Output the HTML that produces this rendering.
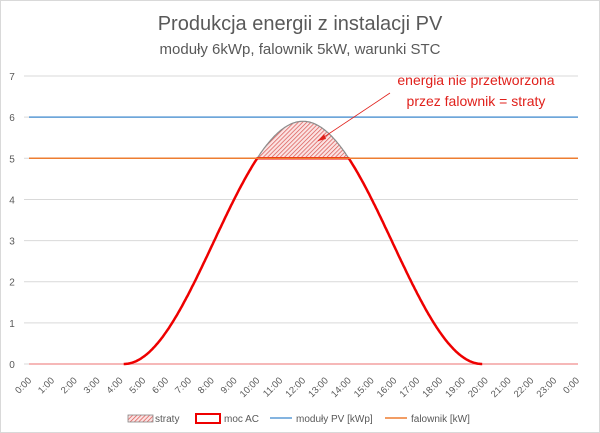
<!DOCTYPE html>
<html><head><meta charset="utf-8"><style>
body{margin:0;background:#fff;}
svg{display:block;font-family:"Liberation Sans",sans-serif;}
</style></head><body>
<svg id="s" width="600" height="433" viewBox="0 0 600 433">
<defs><pattern id="h" width="3" height="3" patternUnits="userSpaceOnUse" patternTransform="rotate(45)"><rect width="3" height="3" fill="#fbe3e3"/><line x1="0" y1="0" x2="0" y2="3" stroke="#d9534f" stroke-width="1.4"/></pattern></defs>
<rect x="0.5" y="0.5" width="599" height="432" fill="#fff" stroke="#d9d9d9"/>
<text x="300" y="30" text-anchor="middle" font-size="20" fill="#595959">Produkcja energii z instalacji PV</text>
<text x="300" y="54" text-anchor="middle" font-size="15" fill="#595959">moduły 6kWp, falownik 5kW, warunki STC</text>
<g id="g"></g>
<text x="476" y="85" text-anchor="middle" font-size="14" fill="#e0201b">energia nie przetworzona</text>
<text x="476" y="106" text-anchor="middle" font-size="14" fill="#e0201b">przez falownik = straty</text>
<line x1="390" y1="93" x2="318" y2="141" stroke="#e0201b" stroke-width="0.8"/>
<polygon points="318,141 324,134 326,139" fill="#e0201b"/>
<g font-size="10" fill="#595959">
<rect x="128" y="415" width="25" height="7" fill="url(#h)" stroke="#888" stroke-width="0.8"/><text x="155" y="422">straty</text>
<rect x="196" y="414" width="24" height="9" fill="#fff" stroke="#e00" stroke-width="2"/><text x="224" y="422">moc AC</text>
<line x1="270" y1="418" x2="292" y2="418" stroke="#5b9bd5" stroke-width="1.5"/><text x="296" y="422">moduły PV [kWp]</text>
<line x1="385" y1="418" x2="407" y2="418" stroke="#ed7d31" stroke-width="1.5"/><text x="411" y="422">falownik [kW]</text>
</g>
</svg>
<script>
var g=document.getElementById('g'),h='';
var X=function(t){return 29+t*22.83},Y=function(v){return 364-v*41.14};
for(var i=0;i<=7;i++){h+='<line x1="24" x2="578" y1="'+Y(i)+'" y2="'+Y(i)+'" stroke="#d9d9d9"/>';h+='<text x="12" y="'+(Y(i)+4)+'" font-size="10" fill="#595959" text-anchor="middle">'+i+'</text>';}
for(var i=0;i<=24;i++){var x=X(i);h+='<text transform="translate('+(x+3)+',381) rotate(-45)" font-size="9.5" fill="#595959" text-anchor="end">'+(i%24)+':00</text>';}
var S=4.15,W=15.7;
function P(t){if(t<S||t>S+W)return 0;var s=Math.sin(Math.PI*(t-S)/W);return 5.9*s*s;}
var ac='',tp='';
for(var k=415;k<=1985;k+=5){var t=k/100,p=P(t);ac+=(k==415?'M':'L')+X(t).toFixed(1)+','+Y(Math.min(p,5)).toFixed(1);if(p>5){tp+='L'+X(t).toFixed(1)+','+Y(p).toFixed(1);}}
h+='<path d="M'+X(10.0)+','+Y(5)+tp+'L'+X(14.0)+','+Y(5)+'Z" fill="url(#h)" stroke="#8c8c8c" stroke-width="1.2"/>';
h+='<line x1="29" x2="578" y1="'+Y(0)+'" y2="'+Y(0)+'" stroke="#f4a0a0" stroke-width="1.5"/>';
h+='<path d="'+ac+'" fill="none" stroke="#e00" stroke-width="2.5"/>';
h+='<line x1="29" x2="578" y1="'+Y(6)+'" y2="'+Y(6)+'" stroke="#5b9bd5" stroke-width="1.5"/>';
h+='<line x1="29" x2="578" y1="'+Y(5)+'" y2="'+Y(5)+'" stroke="#ed7d31" stroke-width="1.5"/>';
g.innerHTML=h;
</script>
</body></html>
